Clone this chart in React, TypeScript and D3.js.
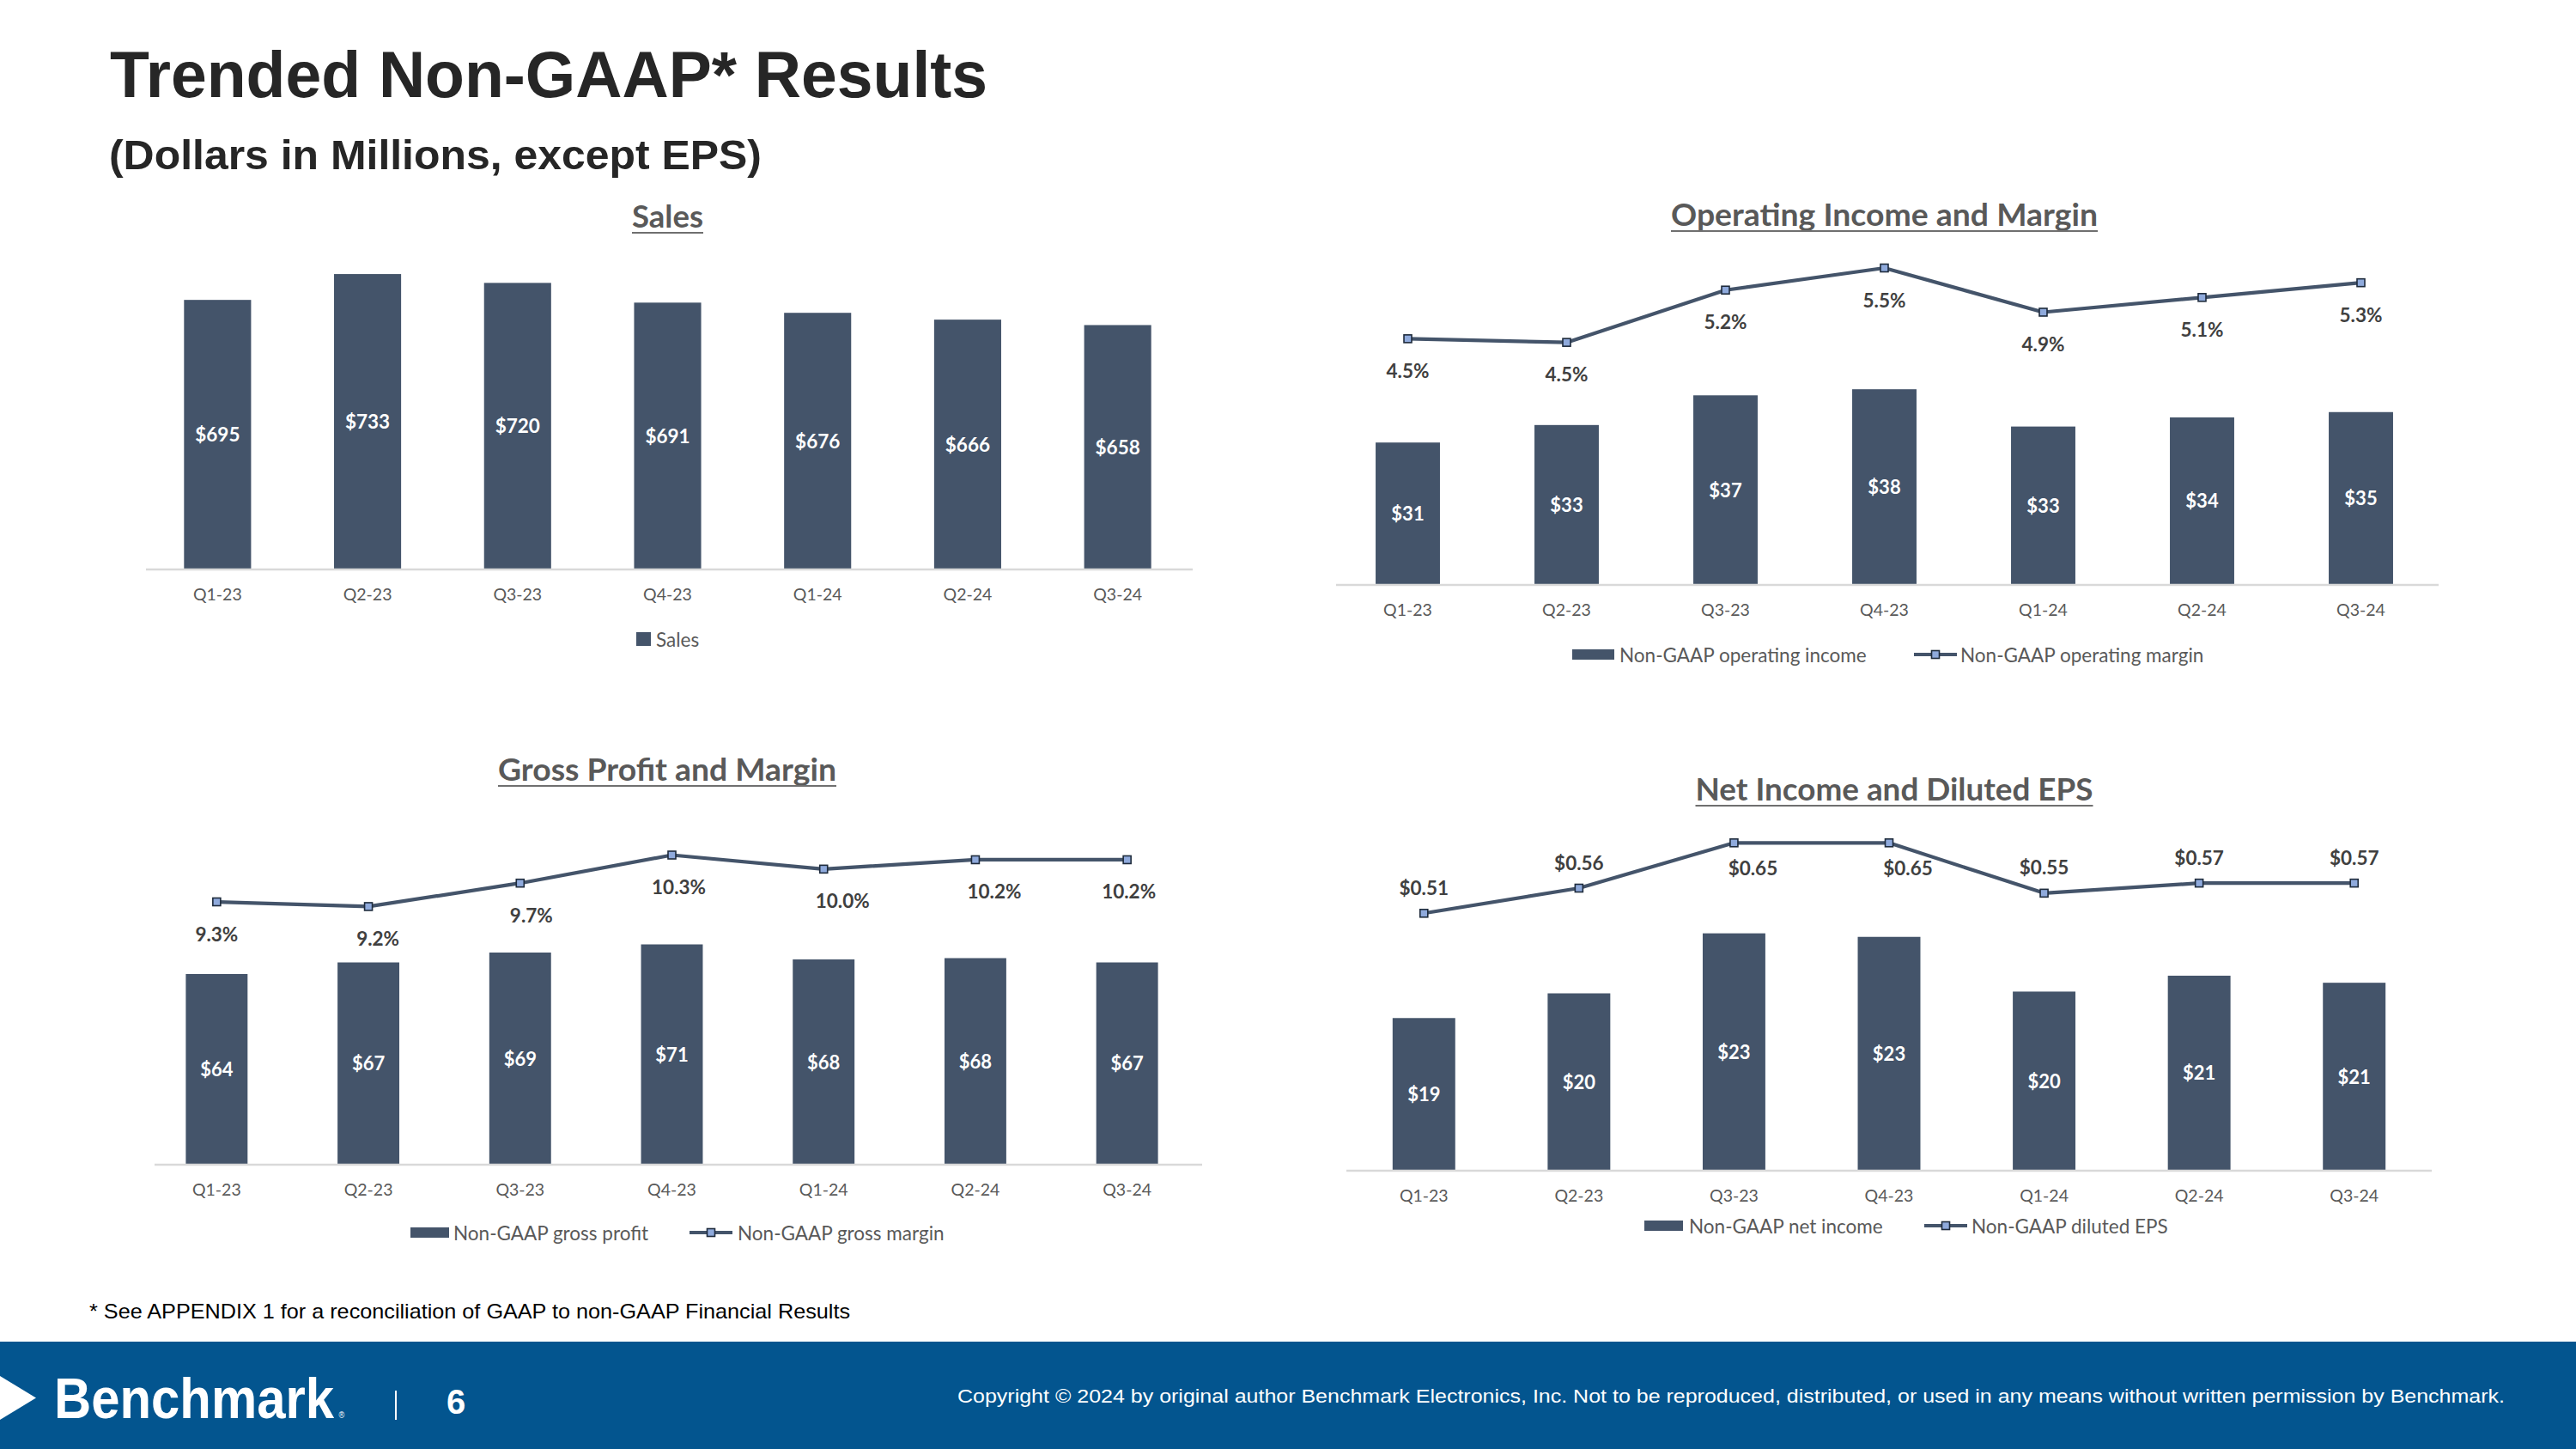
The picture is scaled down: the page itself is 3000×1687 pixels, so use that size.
import React from 'react';
import * as d3 from 'd3';

// ---------- data ----------
const quarters = ['Q1-23', 'Q2-23', 'Q3-23', 'Q4-23', 'Q1-24', 'Q2-24', 'Q3-24'];
const salesValues = [695, 733, 720, 691, 676, 666, 658];
const opIncomeValues = [31.1, 33.4, 37.3, 38.1, 33.2, 34.4, 35.1];
const opMarginValues = [4.54, 4.49, 5.2, 5.5, 4.9, 5.1, 5.3];
const grossProfitValues = [64.2, 66.9, 69.2, 71.1, 67.6, 67.9, 66.9];
const grossMarginValues = [9.3, 9.2, 9.7, 10.3, 10.0, 10.2, 10.2];
const netIncomeValues = [18.6, 20.0, 23.4, 23.2, 20.1, 21.0, 20.6];
const epsValues = [0.51, 0.56, 0.65, 0.65, 0.55, 0.57, 0.57];

const chartTitles = ['Sales', 'Operating Income and Margin', 'Gross Profit and Margin', 'Net Income and Diluted EPS'];
const seriesNames = [
  ['Sales'],
  ['Non-GAAP operating income', 'Non-GAAP operating margin'],
  ['Non-GAAP gross profit', 'Non-GAAP gross margin'],
  ['Non-GAAP net income', 'Non-GAAP diluted EPS'],
];

// ---------- styles ----------
const BAR = '#44546A';
const LINE = '#44546A';
const MARK_FILL = '#8FAADC';
const MARK_STROKE = '#1E2B3C';
const CH_FONT = "Lato, 'Open Sans', sans-serif";
const HEAD_FONT = "'Liberation Sans', Arial, Helvetica, sans-serif";
const FOOT_BLUE = '#03558F';

const fmtMoney = (v: number) => `$${Math.round(v)}`;
const fmtPct = (v: number) => `${v.toFixed(1)}%`;
const fmtEps = (v: number) => `$${v.toFixed(2)}`;

// label nudges (layout only)
const grossLabelNudge = [0, 11, 13, 8, 22, 22, 2];

type LegendItem = { kind: 'bar' | 'square' | 'line'; x: number; w: number; tx: number; label: string };

type Cfg = {
  title: string;
  titleX: number;
  titleY: number;
  titleW: number;
  xRange: [number, number];
  pad: number;
  axisX: [number, number];
  base: number;
  bars: number[];
  barDomain: [number, number];
  barRange: [number, number];
  barFmt: (v: number) => string;
  barFont: number;
  line?: number[];
  lineDomain?: [number, number];
  lineRange?: [number, number];
  lineFmt?: (v: number) => string;
  lineLabelDy?: (i: number) => number;
  lineLabelDx?: (i: number) => number;
  legendY: number;
  legend: LegendItem[];
};

function Marker({ x, y }: { x: number; y: number }) {
  const s = 9;
  return <rect x={x - s / 2} y={y - s / 2} width={s} height={s} fill={MARK_FILL} stroke={MARK_STROKE} strokeWidth={1.6} />;
}

function ComboChart({ cfg }: { cfg: Cfg }) {
  const x = d3.scaleBand<string>().domain(quarters).range(cfg.xRange).paddingInner(cfg.pad).paddingOuter(cfg.pad / 2);
  const yb = d3.scaleLinear().domain(cfg.barDomain).range(cfg.barRange);
  const cx = (q: string) => (x(q) as number) + x.bandwidth() / 2;
  let linePath = '';
  let yl: d3.ScaleLinear<number, number> | null = null;
  if (cfg.line && cfg.lineDomain && cfg.lineRange) {
    yl = d3.scaleLinear().domain(cfg.lineDomain).range(cfg.lineRange);
    const gen = d3.line<number>().x((_, i) => cx(quarters[i])).y((d) => (yl as any)(d));
    linePath = gen(cfg.line) || '';
  }
  return (
    <g>
      {/* title */}
      <text x={cfg.titleX} y={cfg.titleY} textAnchor="middle" fontFamily={CH_FONT} fontWeight={700} fontSize={36}
        fill="#595959" textLength={cfg.titleW} lengthAdjust="spacingAndGlyphs">{cfg.title}</text>
      <line x1={cfg.titleX - cfg.titleW / 2} x2={cfg.titleX + cfg.titleW / 2} y1={cfg.titleY + 6} y2={cfg.titleY + 6}
        stroke="#6F6F6F" strokeWidth={2.2} />
      {/* bars */}
      {cfg.bars.map((v, i) => {
        const q = quarters[i];
        const top = yb(v);
        return (
          <g key={q}>
            <rect x={x(q)} y={top} width={x.bandwidth()} height={cfg.base - top} fill={BAR} />
            <text x={cx(q)} y={(top + cfg.base) / 2} textAnchor="middle" dominantBaseline="central" fontFamily={CH_FONT}
              fontWeight={700} fontSize={cfg.barFont} fill="#FFFFFF">{cfg.barFmt(v)}</text>
          </g>
        );
      })}
      {/* axis line */}
      <line x1={cfg.axisX[0]} x2={cfg.axisX[1]} y1={cfg.base + 1} y2={cfg.base + 1} stroke="#D9D9D9" strokeWidth={2.5} />
      {quarters.map((q) => (
        <text key={q} x={cx(q)} y={cfg.base + 29} textAnchor="middle" dominantBaseline="central" fontFamily={CH_FONT}
          fontSize={19.5} fill="#595959">{q}</text>
      ))}
      {/* line */}
      {yl && cfg.line && (
        <g>
          <path d={linePath} fill="none" stroke={LINE} strokeWidth={4.2} strokeLinejoin="round" />
          {cfg.line.map((v, i) => (
            <Marker key={i} x={cx(quarters[i])} y={(yl as any)(v)} />
          ))}
          {cfg.line.map((v, i) => (
            <text key={'l' + i} x={cx(quarters[i]) + (cfg.lineLabelDx ? cfg.lineLabelDx(i) : 0)}
              y={(yl as any)(v) + (cfg.lineLabelDy ? cfg.lineLabelDy(i) : 0)} textAnchor="middle" dominantBaseline="central"
              fontFamily={CH_FONT} fontWeight={700} fontSize={22.5} fill="#404040">{(cfg.lineFmt as any)(v)}</text>
          ))}
        </g>
      )}
      {/* legend */}
      {cfg.legend.map((it, i) => (
        <g key={i}>
          {it.kind === 'bar' && <rect x={it.x} y={cfg.legendY - 6} width={it.w} height={12} fill={BAR} />}
          {it.kind === 'square' && <rect x={it.x} y={cfg.legendY - 8} width={it.w} height={16} fill={BAR} />}
          {it.kind === 'line' && (
            <g>
              <line x1={it.x} x2={it.x + it.w} y1={cfg.legendY} y2={cfg.legendY} stroke={LINE} strokeWidth={4.2} />
              <Marker x={it.x + it.w / 2} y={cfg.legendY} />
            </g>
          )}
          <text x={it.tx} y={cfg.legendY} dominantBaseline="central" fontFamily={CH_FONT} fontSize={22.5} fill="#595959">
            {it.label}
          </text>
        </g>
      ))}
    </g>
  );
}

const charts: Cfg[] = [
  {
    title: chartTitles[0], titleX: 777.5, titleY: 265, titleW: 83,
    xRange: [166, 1389], pad: 0.553, axisX: [170, 1389], base: 662,
    bars: salesValues, barDomain: [300, 800], barRange: [662, 266], barFmt: fmtMoney, barFont: 22.5,
    legendY: 744,
    legend: [{ kind: 'square', x: 741, w: 17, tx: 764, label: seriesNames[0][0] }],
  },
  {
    title: chartTitles[1], titleX: 2194.5, titleY: 263, titleW: 497,
    xRange: [1547, 2842], pad: 0.595, axisX: [1556, 2840], base: 680,
    bars: opIncomeValues, barDomain: [12.5, 50], barRange: [680, 347.75], barFmt: fmtMoney, barFont: 22,
    line: opMarginValues, lineDomain: [4, 6], lineRange: [440.7, 269.1], lineFmt: fmtPct,
    lineLabelDy: () => 37,
    legendY: 762,
    legend: [
      { kind: 'bar', x: 1831, w: 49, tx: 1886, label: seriesNames[1][0] },
      { kind: 'line', x: 2229, w: 50, tx: 2283, label: seriesNames[1][1] },
    ],
  },
  {
    title: chartTitles[2], titleX: 777, titleY: 909, titleW: 394,
    xRange: [164, 1401], pad: 0.593, axisX: [180, 1400], base: 1355,
    bars: grossProfitValues, barDomain: [20, 80], barRange: [1355, 1055], barFmt: fmtMoney, barFont: 22,
    line: grossMarginValues, lineDomain: [9, 11], lineRange: [1066.35, 957.35], lineFmt: fmtPct,
    lineLabelDy: () => 37, lineLabelDx: (i) => grossLabelNudge[i],
    legendY: 1435,
    legend: [
      { kind: 'bar', x: 478, w: 45, tx: 528, label: seriesNames[2][0] },
      { kind: 'line', x: 803, w: 50, tx: 859, label: seriesNames[2][1] },
    ],
  },
  {
    title: chartTitles[3], titleX: 2206, titleY: 932, titleW: 463,
    xRange: [1568, 2832], pad: 0.596, axisX: [1568, 2832], base: 1362,
    bars: netIncomeValues, barDomain: [10, 30], barRange: [1362, 951], barFmt: fmtMoney, barFont: 22,
    line: epsValues, lineDomain: [0, 1], lineRange: [1362, 776.3], lineFmt: fmtEps,
    lineLabelDy: (i) => (i === 2 || i === 3 ? 29 : -30), lineLabelDx: (i) => (i === 2 || i === 3 ? 22 : 0),
    legendY: 1427,
    legend: [
      { kind: 'bar', x: 1915, w: 45, tx: 1967, label: seriesNames[3][0] },
      { kind: 'line', x: 2241, w: 50, tx: 2296, label: seriesNames[3][1] },
    ],
  },
];

export default function App() {
  return (
    <svg width={3000} height={1687} viewBox="0 0 3000 1687" style={{ position: 'absolute', left: 0, top: 0, background: '#FFFFFF' }}>
      <rect x={0} y={0} width={3000} height={1687} fill="#FFFFFF" />
      <text x={128} y={113} fontFamily={HEAD_FONT} fontWeight={700} fontSize={76} fill="#262626" textLength={1022}
        lengthAdjust="spacingAndGlyphs">Trended Non-GAAP* Results</text>
      <text x={127} y={197} fontFamily={HEAD_FONT} fontWeight={700} fontSize={49} fill="#262626" textLength={760}
        lengthAdjust="spacingAndGlyphs">(Dollars in Millions, except EPS)</text>

      {charts.map((c, i) => (
        <ComboChart key={i} cfg={c} />
      ))}

      <text x={104} y={1535} fontFamily={HEAD_FONT} fontSize={24} fill="#000000" textLength={886}
        lengthAdjust="spacingAndGlyphs">* See APPENDIX 1 for a reconciliation of GAAP to non-GAAP Financial Results</text>

      {/* footer */}
      <rect x={0} y={1562} width={3000} height={125} fill={FOOT_BLUE} />
      <polygon points="0,1602 42,1627.5 0,1653" fill="#FFFFFF" />
      <text transform="translate(63,1651) scale(0.907,1)" fontFamily={HEAD_FONT} fontWeight={700} fontSize={66} fill="#FFFFFF">
        Benchmark<tspan dx={6} fontSize={10} fontWeight={400}>®</tspan>
      </text>
      <line x1={461} x2={461} y1={1619} y2={1653} stroke="#FFFFFF" strokeWidth={2} />
      <text x={520} y={1646} fontFamily={HEAD_FONT} fontWeight={700} fontSize={40} fill="#FFFFFF">6</text>
      <text x={1115} y={1633} fontFamily={HEAD_FONT} fontSize={22} fill="#FFFFFF" textLength={1802}
        lengthAdjust="spacingAndGlyphs">
        Copyright © 2024 by original author Benchmark Electronics, Inc. Not to be reproduced, distributed, or used in any means without written permission by Benchmark.
      </text>
    </svg>
  );
}
